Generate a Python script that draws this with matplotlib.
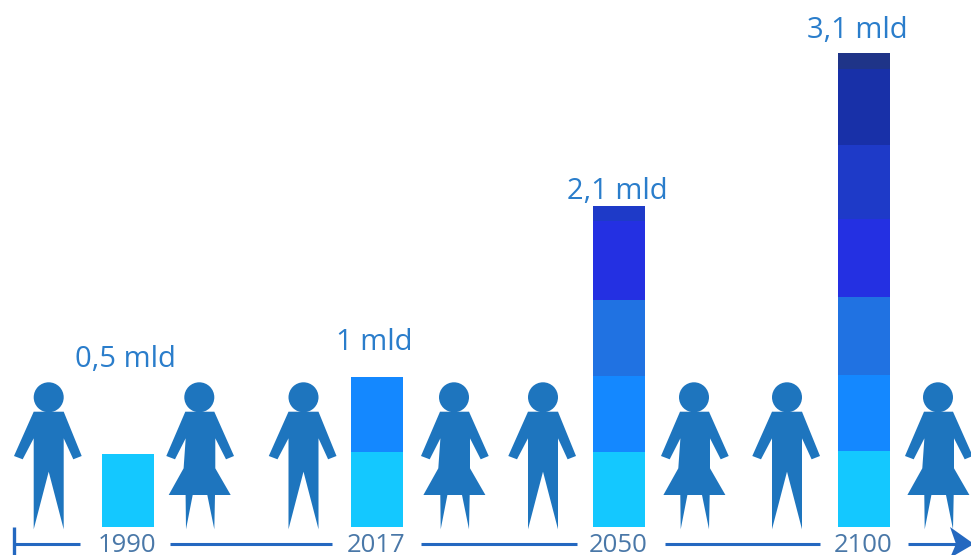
import matplotlib
matplotlib.use('Agg')
import matplotlib.pyplot as plt
from matplotlib.patches import Circle, Polygon

plt.rcParams['font.family'] = ['Open Sans', 'DejaVu Sans']

# Values in billions, one list per year, stacked from the bottom up
lata = ['1990', '2017', '2050', '2100']
segmenty_1990 = [0.48]
segmenty_2017 = [0.49, 0.49]
segmenty_2050 = [0.49, 0.497, 0.497, 0.517, 0.10]
segmenty_2100 = [0.497, 0.497, 0.51, 0.51, 0.484, 0.497, 0.105]
segmenty = [segmenty_1990, segmenty_2017, segmenty_2050, segmenty_2100]
etykiety = ['0,5 mld', '1 mld', '2,1 mld', '3,1 mld']
wysokosc_etykiet = [1.097, 1.207, 2.197, 3.244]

kolory = ['#14C8FF', '#1488FF', '#2072E2', '#2430E2', '#1E3AC8', '#1830A8', '#1F3488']
kolor_ludzi = '#1E75BE'
kolor_osi = '#2468C0'

W, H = 971, 555
fig = plt.figure(figsize=(W / 100, H / 100), dpi=100)

# Bars: x in pixels, y in billions (baseline at pixel row 527)
skala = 152.9
ax = fig.add_axes([0, 0, 1, 1])
ax.set_xlim(0, W)
ax.set_ylim(-(H - 527) / skala, 527 / skala)
ax.axis('off')

srodki = [127.5, 376.5, 619, 864]
x_etykiet = [125.5, 374.5, 617.5, 857.5]
for x, wartosci in zip(srodki, segmenty):
    dol = 0
    for i, v in enumerate(wartosci):
        ax.bar(x, v, width=52, bottom=dol, color=kolory[i], linewidth=0)
        dol += v

for x, y, etykieta in zip(x_etykiet, wysokosc_etykiet, etykiety):
    ax.text(x, y, etykieta, ha='center', va='center', fontsize=21, color='#2A7DCB')

# Overlay in pixel coordinates for pictograms and the timeline
px = fig.add_axes([0, 0, 1, 1])
px.set_xlim(0, W)
px.set_ylim(H, 0)
px.axis('off')
px.patch.set_alpha(0)

mezczyzna = [(-15, 411.7), (15, 411.7), (33, 456), (24.6, 459.3), (15, 438.3),
             (15, 529.3), (0, 471.7), (-15, 529.3), (-15, 438.3), (-26, 459.3),
             (-34.7, 456)]
kobieta = [(-14, 411.7), (15, 411.7), (34.7, 456), (26.7, 459.3), (16, 438.3),
           (16, 468.3), (31.4, 495), (15.7, 495), (15, 529.3), (8, 495),
           (-6.6, 495), (-13.3, 529.3), (-13.7, 495), (-30.6, 495), (-15.7, 468.3),
           (-13.6, 438.3), (-24.3, 459.3), (-33, 456)]


def czlowiek(cx, ksztalt):
    px.add_patch(Circle((cx, 397.3), 15, color=kolor_ludzi, lw=0))
    px.add_patch(Polygon([(cx + a, b) for a, b in ksztalt], closed=True,
                         color=kolor_ludzi, lw=0))


for cx in [48.7, 303.5, 543, 787]:
    czlowiek(cx, mezczyzna)
for cx in [199.3, 454, 694, 938]:
    czlowiek(cx, kobieta)

# Timeline
for x0, x1 in [(14, 80), (170, 332), (421, 577), (665, 820), (908, 960)]:
    px.plot([x0, x1], [543.5, 543.5], color=kolor_osi, lw=2.2, solid_capstyle='butt')
px.plot([14, 14], [527, 555], color=kolor_osi, lw=2.4, solid_capstyle='butt')
px.add_patch(Polygon([(950, 527), (974, 544), (950, 558), (956, 544)], closed=True,
                     color=kolor_osi, lw=0))

for x, rok in zip(srodki, lata):
    px.text(x - 0.5, 552.5, rok, ha='center', va='baseline', fontsize=18.5, color='#4A78A8')

fig.savefig('out.png', dpi=100)
